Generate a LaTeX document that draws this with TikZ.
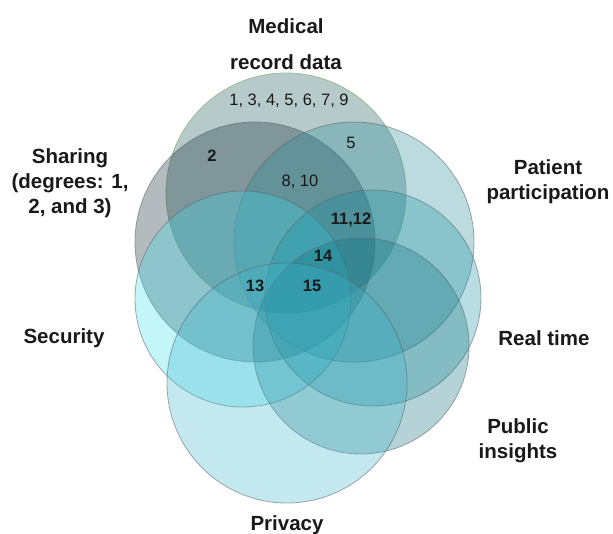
\documentclass[tikz,border=0pt]{standalone}
\usepackage{fontspec}
\setmainfont{Liberation Sans}
\definecolor{cMed}{RGB}{15,82,82}
\definecolor{cSha}{RGB}{5,32,45}
\definecolor{cPat}{RGB}{32,138,152}
\definecolor{cSec}{RGB}{58,222,238}
\definecolor{cRea}{RGB}{22,145,165}
\definecolor{cPub}{RGB}{12,112,125}
\definecolor{cPri}{RGB}{62,182,205}
\definecolor{edgeG}{RGB}{90,100,105}
\definecolor{edgeM}{RGB}{150,185,140}
\begin{document}
\begin{tikzpicture}[x=1pt,y=-1pt,
  lab/.style={font=\fontsize{20.5}{25}\selectfont\bfseries, align=center, text=black!90, inner sep=0pt},
  num/.style={font=\fontsize{16.5}{20}\selectfont, inner sep=0pt, text=black!90},
  numb/.style={font=\fontsize{16.5}{20}\selectfont\bfseries, inner sep=0pt, text=black!90},
  ring/.style={fill opacity=0.3, draw=edgeG, draw opacity=0.55, line width=0.8pt}]
\useasboundingbox (0,0) rectangle (613,534);
\fill[white] (0,0) rectangle (613,534);
% circles
\draw[ring, fill=cMed, draw=edgeM, draw opacity=0.9] (286,193) circle[radius=120pt];
\draw[ring, fill=cSha] (255,242) circle[radius=120pt];
\draw[ring, fill=cPat] (354,242) circle[radius=120pt];
\draw[ring, fill=cSec] (243,299) circle[radius=108pt];
\draw[ring, fill=cRea] (373,298) circle[radius=108pt];
\draw[ring, fill=cPub] (361,346) circle[radius=108pt];
\draw[ring, fill=cPri] (287,383) circle[radius=120pt];
% labels
\node[lab] (lmed1) at (286,26) {Medical};
\node[lab] (lmed2) at (286,62) {record data};
\node[lab] (lsha) at (70,183) {Sharing\\(degrees: 1,\\2, and 3)};
\node[lab] (lpat) at (548,182) {Patient\\participation};
\node[lab] (lsec) at (64,338) {Security};
\node[lab] (lrea) at (544,338) {Real time};
\node[lab] (lpub) at (518,441) {Public\\insights};
\node[lab] (lpri) at (287,525) {Privacy};
% numbers
\node[num] (n1) at (289,101) {1, 3, 4, 5, 6, 7, 9};
\node[num] (n5) at (351,143) {5};
\node[numb] (n2) at (212,156) {2};
\node[num] (n8) at (300,182) {8, 10};
\node[numb] (n11) at (351,220) {11,12};
\node[numb] (n14) at (323,256) {14};
\node[numb] (n13) at (255,286) {13};
\node[numb] (n15) at (312,286) {15};
\end{tikzpicture}
\end{document}
